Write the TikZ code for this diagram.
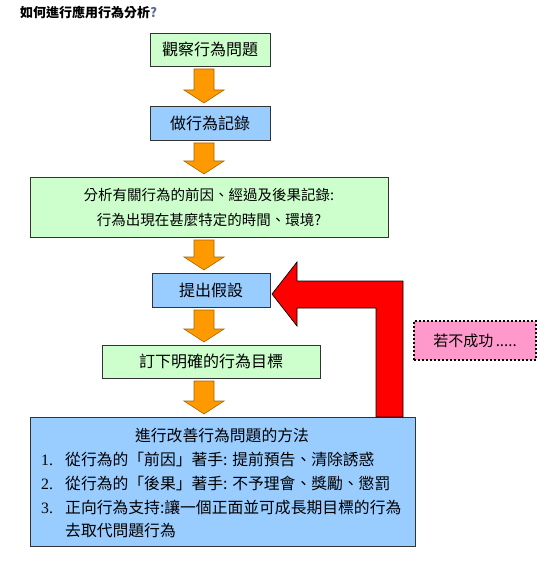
\documentclass[tikz,border=0pt]{standalone}
\usepackage{fontspec}
\setmainfont{Noto Sans CJK TC}
\newfontfamily\numfont{Liberation Serif}
\usetikzlibrary{calc}

\definecolor{boxgreen}{HTML}{CCFFCC}
\definecolor{boxblue}{HTML}{99CCFF}
\definecolor{boxpink}{HTML}{FF99CC}
\definecolor{arroworange}{HTML}{FF9900}
\definecolor{arrowedge}{HTML}{A86400}
\definecolor{qmark}{HTML}{5A6E8C}

\tikzset{
  stepbox/.style={draw=black!80,line width=0.8pt,inner sep=0pt,outer sep=0pt,
    font=\fontsize{16}{18}\selectfont},
  greenbox/.style={stepbox,fill=boxgreen},
  bluebox/.style={stepbox,fill=boxblue},
  notebox/.style={draw=black,line width=2pt,dotted,fill=boxpink,inner sep=0pt,
    font=\fontsize{15}{17}\selectfont},
  blockarrow/.style={fill=arroworange,draw=arrowedge,line width=0.6pt,line join=miter},
  feedback/.style={fill=red,draw=black,line width=0.7pt,line join=miter},
  bodytext/.style={inner sep=0pt,font=\fontsize{15.8}{18}\selectfont}
}

% orange arrow between two boxes of the column
\newcommand{\flowarrow}[2]{%
  \filldraw[blockarrow] let \p1=(#1.south), \p2=(#2.north) in
    (194pt,\y1-3pt) -- (214pt,\y1-3pt) -- (214pt,\y2+16pt) -- (224pt,\y2+16pt)
    -- (204pt,\y2+3pt) -- (184pt,\y2+16pt) -- (194pt,\y2+16pt) -- cycle;}

\begin{document}
\begin{tikzpicture}[x=1pt,y=-1pt]
\useasboundingbox (0,0) rectangle (556,561);

% title
\node[anchor=west,inner sep=0pt,font=\fontsize{13}{15}\selectfont\bfseries] (title)
  at (20,13) {如何進行應用行為分析\textcolor{qmark}{?}};

% boxes of the column
\node[greenbox,minimum width=120,minimum height=33] (observe) at (210,49.5) {觀察行為問題};
\node[bluebox,minimum width=120,minimum height=34] (record) at (210,123) {做行為記錄};
\node[greenbox,minimum width=358,minimum height=60,align=center,
  font=\fontsize{14.5}{25}\selectfont] (analyse) at (209,207)
  {分析有關行為的前因、經過及後果記錄:\\行為出現在甚麼特定的時間、環境?};
\node[bluebox,minimum width=118,minimum height=34] (hypo) at (211,290) {提出假設};
\node[greenbox,minimum width=218,minimum height=33] (target) at (211,361.5) {訂下明確的行為目標};
\node[bluebox,minimum width=385,minimum height=129] (method) at (222.5,481.5) {};

% text of the last box
\node[bodytext,anchor=base] (mtitle) at (222,441) {進行改善行為問題的方法};
\node[bodytext,anchor=base west] (n1) at (41,465) {\numfont 1.};
\node[bodytext,anchor=base west] (m1) at (65,465) {從行為的「前因」著手: 提前預告、清除誘惑};
\node[bodytext,anchor=base west] (n2) at (41,489) {\numfont 2.};
\node[bodytext,anchor=base west] (m2) at (65,489) {從行為的「後果」著手: 不予理會、獎勵、懲罰};
\node[bodytext,anchor=base west] (n3) at (41,513) {\numfont 3.};
\node[bodytext,anchor=base west] (m3) at (65,513) {正向行為支持:讓一個正面並可成長期目標的行為};
\node[bodytext,anchor=base west] (m4) at (65,536) {去取代問題行為};

% note
\node[notebox,minimum width=122,minimum height=39] (fail) at (475,340.5) {若不成功\,.....};

% arrows of the column
\flowarrow{observe}{record}
\flowarrow{record}{analyse}
\flowarrow{analyse}{hypo}
\flowarrow{hypo}{target}
\flowarrow{target}{method}

% feedback arrow back to the hypothesis
\filldraw[feedback] let \p1=(hypo.east), \p2=(method.north) in
  (\x1+2pt,\y1-4pt) -- (\x1+27pt,\y1+28pt) -- (\x1+27pt,\y1+9pt)
  -- (\x1+133pt,\y1+9pt) -- (\x1+133pt,\y2) -- (\x1+106pt,\y2)
  -- (\x1+106pt,\y1-18pt) -- (\x1+27pt,\y1-18pt) -- (\x1+27pt,\y1-36pt) -- cycle;

\end{tikzpicture}
\end{document}
